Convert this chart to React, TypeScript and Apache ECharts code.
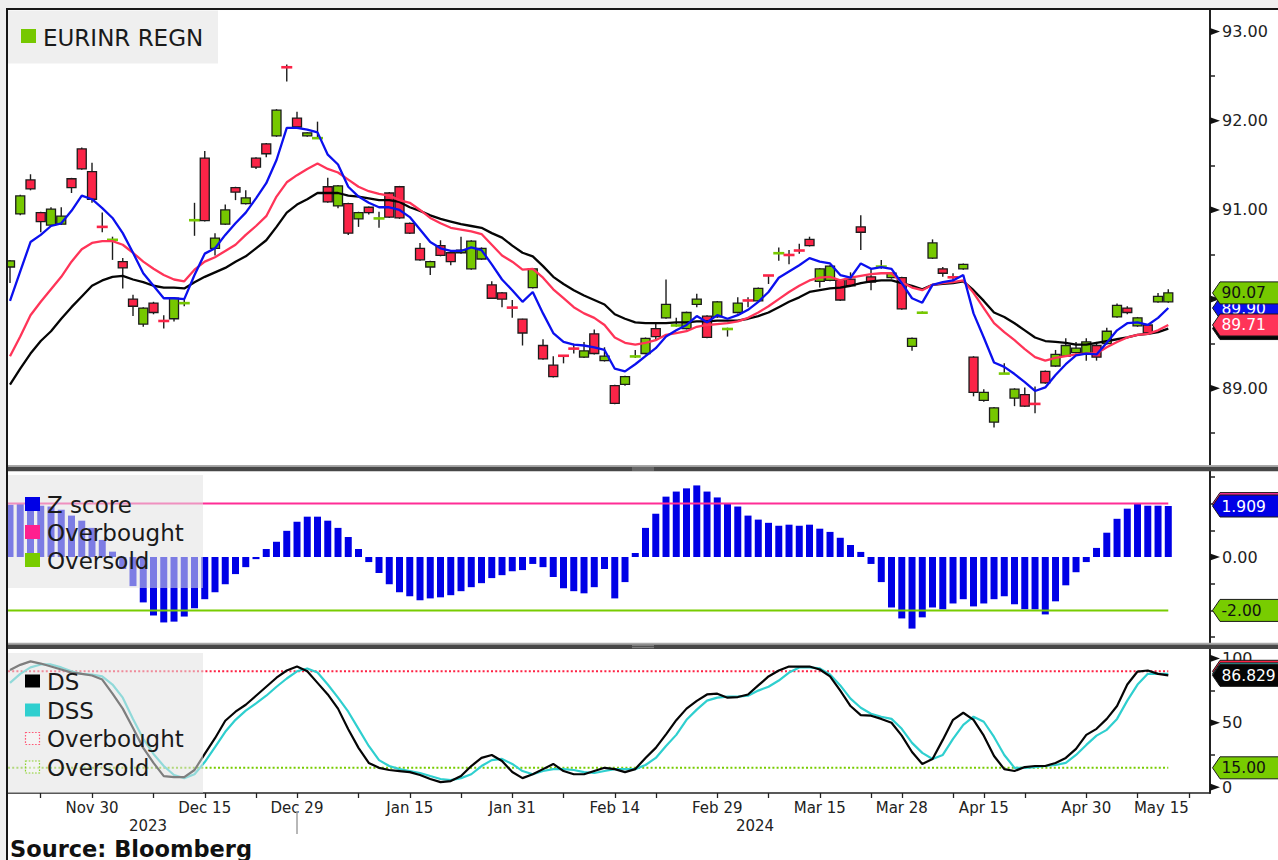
import React, { useEffect, useRef } from "react";
import * as echarts from "echarts";

// ---------- axis calendar (trading days, incl. the empty slots at the right edge) ----------
const axisDates = [
  "2023-11-17", "2023-11-20", "2023-11-21", "2023-11-22", "2023-11-23", "2023-11-24", "2023-11-28", "2023-11-29", "2023-11-30", "2023-12-01",
  "2023-12-04", "2023-12-05", "2023-12-06", "2023-12-07", "2023-12-08", "2023-12-11", "2023-12-12", "2023-12-13", "2023-12-14", "2023-12-15",
  "2023-12-18", "2023-12-19", "2023-12-20", "2023-12-21", "2023-12-22", "2023-12-26", "2023-12-27", "2023-12-28", "2023-12-29", "2024-01-01",
  "2024-01-02", "2024-01-03", "2024-01-04", "2024-01-05", "2024-01-08", "2024-01-09", "2024-01-10", "2024-01-11", "2024-01-12", "2024-01-15",
  "2024-01-16", "2024-01-17", "2024-01-18", "2024-01-19", "2024-01-23", "2024-01-24", "2024-01-25", "2024-01-29", "2024-01-30", "2024-01-31",
  "2024-02-01", "2024-02-02", "2024-02-05", "2024-02-06", "2024-02-07", "2024-02-08", "2024-02-09", "2024-02-12", "2024-02-13", "2024-02-14",
  "2024-02-15", "2024-02-16", "2024-02-20", "2024-02-21", "2024-02-22", "2024-02-23", "2024-02-26", "2024-02-27", "2024-02-28", "2024-02-29",
  "2024-03-01", "2024-03-04", "2024-03-05", "2024-03-06", "2024-03-07", "2024-03-11", "2024-03-12", "2024-03-13", "2024-03-14", "2024-03-15",
  "2024-03-18", "2024-03-19", "2024-03-20", "2024-03-21", "2024-03-22", "2024-03-26", "2024-03-27", "2024-03-28", "2024-04-02", "2024-04-03",
  "2024-04-04", "2024-04-05", "2024-04-08", "2024-04-10", "2024-04-12", "2024-04-15", "2024-04-16", "2024-04-18", "2024-04-19", "2024-04-22",
  "2024-04-23", "2024-04-24", "2024-04-25", "2024-04-26", "2024-04-29", "2024-04-30", "2024-05-02", "2024-05-03", "2024-05-06", "2024-05-07",
  "2024-05-08", "2024-05-09", "2024-05-10", "2024-05-13", "2024-05-14", "2024-05-15", "2024-05-16", "2024-05-17",
];

const tickDates = [
  "2023-11-22", "2023-11-30", "2023-12-08", "2023-12-15", "2023-12-22", "2023-12-29", "2024-01-08", "2024-01-15",
  "2024-01-23", "2024-01-31", "2024-02-07", "2024-02-14", "2024-02-21", "2024-02-29", "2024-03-07", "2024-03-15",
  "2024-03-22", "2024-03-28", "2024-04-08", "2024-04-15", "2024-04-22", "2024-04-30", "2024-05-08", "2024-05-15",
];
const labelDates = [
  "2023-11-30", "2023-12-15", "2023-12-29", "2024-01-15", "2024-01-31", "2024-02-14",
  "2024-02-29", "2024-03-15", "2024-03-28", "2024-04-15", "2024-04-30", "2024-05-15",
];
const yearSeparatorDate = "2023-12-29";
const yearLabels = ["2023", "2024"];
const MONTHS = ["Jan", "Feb", "Mar", "Apr", "May", "Jun", "Jul", "Aug", "Sep", "Oct", "Nov", "Dec"];

// ---------- EURINR candles ----------
const candleOpen = [
  90.36, 90.955, 91.337, 90.97, 90.83, 90.84, 91.35, 91.685, 91.43, 90.82,
  90.66, 90.42, 90.0, 89.72, 89.955, 89.76, 89.78, 89.95, 90.88, 91.58,
  90.57, 90.84, 91.25, 91.07, 91.58, 91.74, 91.83, 92.61, 92.03, 91.83,
  91.8, 91.26, 91.045, 91.07, 90.9, 91.03, 90.9, 91.19, 91.26, 90.85,
  90.57, 90.36, 90.6, 90.52, 90.52, 90.34, 90.45, 90.16, 90.07, 89.91,
  89.775, 90.13, 89.48, 89.26, 89.37, 89.45, 89.35, 89.61, 89.31, 89.03,
  89.045, 89.355, 89.39, 89.67, 89.79, 89.7, 89.67, 89.94, 89.81, 89.8,
  89.66, 89.85, 89.99, 89.98, 90.27, 90.51, 90.5, 90.55, 90.67, 90.2,
  90.21, 90.21, 90.225, 90.81, 90.25, 90.36, 90.24, 90.24, 89.47, 89.845,
  90.46, 90.34, 90.25, 90.34, 89.35, 88.865, 88.62, 89.16, 88.89, 88.93,
  88.83, 89.19, 89.25, 89.36, 89.4, 89.39, 89.48, 89.5, 89.8, 89.9,
  89.7, 89.71, 89.97, 89.97,
];
const candleClose = [
  90.43, 91.157, 91.236, 90.87, 91.01, 90.93, 91.25, 91.46, 91.12, 90.8,
  90.67, 90.35, 89.92, 89.9, 89.85, 89.75, 90.01, 89.96, 90.89, 90.88,
  90.685, 91.0, 91.2, 91.135, 91.48, 91.63, 92.12, 92.59, 91.93, 91.865,
  91.81, 91.09, 91.27, 90.74, 90.97, 90.97, 90.91, 90.92, 90.91, 90.74,
  90.44, 90.42, 90.49, 90.42, 90.55, 90.65, 90.57, 90.01, 90.0, 89.9,
  89.62, 90.34, 89.33, 89.13, 89.36, 89.44, 89.42, 89.39, 89.36, 88.83,
  89.13, 89.36, 89.56, 89.58, 89.94, 89.71, 89.85, 90.0, 89.57, 89.97,
  89.67, 89.955, 89.98, 90.12, 90.26, 90.52, 90.49, 90.54, 90.6, 90.34,
  90.37, 89.99, 90.15, 90.75, 90.19, 90.37, 90.29, 89.89, 89.56, 89.85,
  90.63, 90.29, 90.24, 90.39, 88.955, 88.955, 88.78, 89.17, 88.99, 88.8,
  88.82, 89.06, 89.38, 89.48, 89.45, 89.52, 89.35, 89.64, 89.93, 89.85,
  89.79, 89.62, 90.03, 90.07,
];
const candleHigh = [
  90.44, 91.17, 91.4, 90.98, 91.03, 91.03, 91.36, 91.7, 91.53, 90.97,
  90.7, 90.46, 90.05, 89.91, 89.97, 89.82, 90.02, 90.01, 91.08, 91.66,
  90.74, 91.06, 91.26, 91.22, 91.59, 91.75, 92.13, 92.63, 92.1, 91.87,
  91.99, 91.36, 91.28, 91.08, 90.98, 91.04, 90.98, 91.2, 91.27, 90.86,
  90.63, 90.43, 90.66, 90.53, 90.7, 90.66, 90.58, 90.2, 90.08, 89.99,
  89.78, 90.35, 89.55, 89.36, 89.37, 89.5, 89.52, 89.66, 89.46, 89.04,
  89.14, 89.43, 89.57, 89.72, 90.22, 89.79, 89.86, 90.06, 89.82, 89.98,
  89.68, 90.02, 90.02, 90.13, 90.27, 90.58, 90.55, 90.62, 90.7, 90.35,
  90.38, 90.22, 90.3, 90.94, 90.34, 90.44, 90.3, 90.25, 89.57, 89.86,
  90.67, 90.36, 90.29, 90.4, 89.36, 88.99, 88.79, 89.28, 89.0, 89.01,
  89.02, 89.2, 89.43, 89.56, 89.52, 89.56, 89.52, 89.68, 89.95, 89.92,
  89.8, 89.72, 90.07, 90.11,
];
const candleLow = [
  90.18, 90.94, 91.22, 90.75, 90.82, 90.83, 91.19, 91.45, 91.08, 90.75,
  90.44, 90.12, 89.81, 89.69, 89.83, 89.67, 89.75, 89.92, 90.71, 90.87,
  90.49, 90.83, 91.11, 91.06, 91.46, 91.59, 91.82, 92.44, 91.92, 91.82,
  91.8, 91.08, 91.02, 90.72, 90.81, 90.95, 90.8, 90.91, 90.9, 90.73,
  90.43, 90.27, 90.48, 90.38, 90.51, 90.33, 90.44, 90.0, 89.91, 89.79,
  89.48, 90.12, 89.32, 89.12, 89.28, 89.39, 89.34, 89.38, 89.3, 88.82,
  89.03, 89.34, 89.38, 89.54, 89.78, 89.69, 89.66, 89.91, 89.56, 89.79,
  89.58, 89.84, 89.91, 89.97, 90.17, 90.43, 90.39, 90.51, 90.59, 90.13,
  90.2, 89.98, 90.14, 90.55, 90.1, 90.34, 90.23, 89.88, 89.42, 89.84,
  90.45, 90.25, 90.19, 90.33, 88.91, 88.85, 88.56, 89.16, 88.8, 88.79,
  88.72, 89.05, 89.24, 89.35, 89.39, 89.31, 89.31, 89.49, 89.79, 89.83,
  89.69, 89.61, 89.96, 89.96,
];

// ---------- moving averages (blue / red / black) ----------
const maFast = [
  89.98, 90.31, 90.64, 90.72, 90.82, 90.85, 90.99, 91.16, 91.12, 91.02,
  90.91, 90.74, 90.52, 90.29, 90.15, 90.01, 90.01, 90.0, 90.27, 90.51,
  90.57, 90.72, 90.85, 90.97, 91.13, 91.3, 91.56, 91.92, 91.92, 91.9,
  91.87, 91.62, 91.51, 91.26, 91.15, 91.08, 91.03, 91.03, 91.0, 90.92,
  90.78, 90.64, 90.57, 90.54, 90.54, 90.58, 90.55, 90.39, 90.22, 90.1,
  89.97, 90.08, 89.84, 89.62, 89.52, 89.49, 89.48, 89.46, 89.43, 89.22,
  89.19, 89.27, 89.36, 89.45, 89.58, 89.65, 89.71, 89.81, 89.74, 89.82,
  89.78, 89.82, 89.88, 89.97, 90.08, 90.24, 90.31, 90.38, 90.46, 90.42,
  90.4, 90.27, 90.24, 90.4, 90.34, 90.36, 90.34, 90.18, 90.01, 89.96,
  90.16, 90.19, 90.21, 90.27, 89.84, 89.57, 89.29, 89.24, 89.16, 89.07,
  88.97, 89.01, 89.15, 89.27, 89.37, 89.39, 89.38, 89.51, 89.65, 89.73,
  89.74, 89.71, 89.79, 89.9,
];
const maMid = [
  89.36, 89.58, 89.82, 89.97, 90.11, 90.25, 90.42, 90.56, 90.63, 90.65,
  90.65, 90.61, 90.52, 90.42, 90.34, 90.27, 90.22, 90.2, 90.33, 90.42,
  90.47, 90.54, 90.61, 90.72, 90.82, 90.93, 91.15, 91.31, 91.39, 91.46,
  91.52, 91.46, 91.42, 91.34, 91.26, 91.21, 91.18, 91.16, 91.11, 91.08,
  91.0, 90.91, 90.85, 90.8, 90.78, 90.76, 90.73, 90.61, 90.49, 90.42,
  90.33, 90.34, 90.24, 90.11, 90.01, 89.91, 89.84, 89.79, 89.71, 89.57,
  89.51, 89.49, 89.51, 89.54, 89.6, 89.62, 89.64, 89.69, 89.71, 89.72,
  89.73, 89.75, 89.79, 89.85, 89.92, 90.0, 90.08, 90.15, 90.21, 90.24,
  90.25, 90.21, 90.24, 90.26, 90.28, 90.29, 90.29, 90.19, 90.13, 90.1,
  90.16, 90.18, 90.19, 90.21, 90.07, 89.9, 89.73, 89.63, 89.54, 89.44,
  89.35, 89.31, 89.34, 89.36, 89.38, 89.39, 89.39, 89.46, 89.52, 89.57,
  89.6, 89.61, 89.65, 89.71,
];
const maSlow = [
  89.04, 89.22, 89.39, 89.53, 89.64, 89.78, 89.91, 90.03, 90.15, 90.21,
  90.25, 90.26, 90.22, 90.19, 90.15, 90.13, 90.13, 90.12, 90.19, 90.25,
  90.3, 90.35, 90.42, 90.48, 90.57, 90.66, 90.81, 90.97, 91.06, 91.12,
  91.19, 91.19, 91.19, 91.16, 91.15, 91.13, 91.11, 91.11, 91.09, 91.03,
  90.99, 90.94, 90.9, 90.87, 90.84, 90.82, 90.8, 90.74, 90.69, 90.6,
  90.52, 90.48, 90.37, 90.25, 90.17, 90.1, 90.04, 89.99, 89.94, 89.83,
  89.78, 89.74, 89.73, 89.73, 89.73, 89.74, 89.74, 89.75, 89.75, 89.76,
  89.76, 89.76, 89.78, 89.81, 89.85, 89.91, 89.97, 90.02, 90.08, 90.1,
  90.12, 90.13, 90.15, 90.18, 90.2, 90.21, 90.21, 90.18, 90.15, 90.11,
  90.16, 90.17, 90.18, 90.2, 90.1, 89.98, 89.85, 89.8, 89.73, 89.65,
  89.57, 89.53, 89.52, 89.51, 89.49, 89.49, 89.51, 89.53, 89.55, 89.57,
  89.6, 89.61, 89.63, 89.67,
];

// ---------- Z score ----------
const zScore = [
  1.96, 2.0, 1.96, 1.92, 1.89, 1.77, 1.55, 1.36, 1.09, 0.64,
  0.2, -0.45, -1.09, -1.7, -2.19, -2.45, -2.42, -2.23, -1.92, -1.58,
  -1.32, -1.02, -0.64, -0.38, -0.08, 0.3, 0.57, 0.98, 1.32, 1.51,
  1.51, 1.36, 1.09, 0.75, 0.3, -0.19, -0.6, -1.02, -1.32, -1.47,
  -1.62, -1.55, -1.51, -1.43, -1.28, -1.13, -0.98, -0.79, -0.68, -0.53,
  -0.49, -0.26, -0.38, -0.75, -1.17, -1.28, -1.36, -1.13, -0.45, -1.55,
  -0.94, 0.15, 1.09, 1.62, 2.26, 2.45, 2.57, 2.68, 2.45, 2.23,
  2.0, 1.89, 1.55, 1.4, 1.28, 1.17, 1.21, 1.17, 1.21, 1.06,
  0.94, 0.72, 0.45, 0.19, -0.26, -0.94, -1.89, -2.3, -2.68, -2.26,
  -1.89, -1.96, -1.74, -1.58, -1.85, -1.74, -1.58, -1.47, -1.77, -1.96,
  -1.96, -2.15, -1.66, -1.06, -0.57, -0.19, 0.34, 0.91, 1.43, 1.81,
  2.0, 1.92, 1.92, 1.909,
];
const Z_OVERBOUGHT = 2;
const Z_OVERSOLD = -2;

// ---------- DS / DSS ----------
const dsValues = [
  91, 95, 97.7, 96, 93.7, 91.4, 89, 88, 86.7, 83.6,
  72.7, 61, 46, 30.5, 18.8, 8.6, 7.8, 7.8, 13.3, 25.8,
  38, 51.6, 58.6, 64, 71, 78, 85, 90.6, 93.7, 90,
  81, 72, 61, 45, 30.5, 18.8, 15, 13.3, 12.5, 11.7,
  9.4, 6.3, 3.9, 4.7, 8.6, 16.4, 22.7, 25, 20.3, 11.7,
  7, 10, 14, 18, 12.5, 10, 10, 12.5, 15, 14,
  11.7, 14, 22.7, 30.5, 41, 52, 61, 67, 72, 72.6,
  69.5, 70, 72, 79, 86, 90.6, 93.7, 93.7, 93.7, 91.4,
  86, 75, 63, 56, 55.5, 53, 50, 40, 27.3, 18,
  21.9, 36.7, 52.3, 57.8, 52.3, 40, 24.2, 14, 12.5, 15.6,
  16.4, 16.4, 18.8, 22.7, 29.7, 40.6, 45.3, 53, 63, 79.7,
  89.8, 90.6, 88, 86.829,
];
const dssValues = [
  81, 88, 93, 95.3, 95.3, 93, 90, 88, 87.5, 86,
  79.7, 69.5, 53, 37.5, 25.8, 16.4, 9.4, 7, 10, 19.5,
  31, 43, 52.3, 59.4, 65, 71, 78, 84.4, 90, 92.2,
  89, 79.7, 69.5, 58.6, 45.3, 32, 21, 16.4, 14, 12.5,
  11, 8.6, 6.3, 5.5, 7, 10, 16.4, 21, 21.9, 18,
  12.5, 10, 12.5, 14, 14, 13.3, 11.7, 11, 12.5, 14,
  14, 14, 17.2, 22.7, 32, 40.6, 52.3, 60.2, 67.2, 69.5,
  70.3, 70.3, 71, 75, 78, 82.8, 89, 93, 93, 92.2,
  87.5, 79, 68.8, 61.7, 57, 54.7, 53, 45.3, 34.4, 26.6,
  21.9, 25, 37.5, 48.4, 54.7, 50.8, 39, 25, 15, 15,
  15.6, 16.4, 17.2, 18.8, 25, 32.8, 40, 44.5, 53, 67.2,
  79.7, 88, 88, 88,
];
const STOCH_OVERBOUGHT = 90;
const STOCH_OVERSOLD = 15;

// ---------- axis tick values ----------
const priceTicks = [88.5, 89, 89.5, 90, 90.5, 91, 91.5, 92, 92.5, 93];
const priceLabels = [89, 90, 91, 92, 93];
const zTicks = [-3, -2, -1, 0, 1, 2, 3];
const zLabels = [0];
const stochTicks = [0, 25, 50, 75, 100];
const stochLabels = [0, 50, 100];

// ---------- styling ----------
const FONT = '"DejaVu Sans", Verdana, sans-serif';
const C_UP = "#76c800";
const C_DOWN = "#fb2447";
const C_BLUE = "#0b10ee";
const C_RED = "#ff3458";
const C_BLACK = "#050505";
const C_ZBAR = "#0000e6";
const C_PINK = "#ff2d96";
const C_GREEN = "#78cc00";
const C_CYAN = "#2fcfcf";
const C_OB_DOT = "#ff2244";

const W = 1278;
const H = 860;
const GRID_LEFT = 8;
const GRID_RIGHT = 68; // axis line at x = 1210
const X_MIN = -0.195;
const X_MAX = 117.07;

export default function App() {
  const ref = useRef<HTMLDivElement>(null);

  useEffect(() => {
    const el = ref.current;
    if (!el) return;
    const chart = echarts.init(el, null, { renderer: "svg" });

    const idx = (d: string) => axisDates.indexOf(d);
    const n = candleOpen.length;
    const last = n - 1;
    const candleData = candleOpen.map((o, i) => [i, o, candleClose[i], candleLow[i], candleHigh[i]]);
    const pair = (arr: number[]) => arr.map((v, i) => [i, v]);
    const fmtDate = (v: number) => {
      const d = axisDates[Math.round(v)];
      if (!d) return "";
      const [, m, dd] = d.split("-").map(Number);
      return `${MONTHS[m - 1]} ${dd}`;
    };

    const xAxisBase = (gridIndex: number) => ({
      type: "value",
      gridIndex,
      min: X_MIN,
      max: X_MAX,
      show: gridIndex === 2,
      splitLine: { show: false },
    });

    const yAxisBase = (gridIndex: number, min: number, max: number, ticks: number[], labels: number[], fmt: (v: number) => string) => ({
      type: "value",
      gridIndex,
      position: "right",
      min,
      max,
      splitLine: { show: false },
      axisLine: { show: true, onZero: false, lineStyle: { color: "#222", width: 2 } },
      axisTick: { show: true, customValues: ticks, length: 5, lineStyle: { color: "#222", width: 1.5 } },
      axisLabel: {
        customValues: labels,
        formatter: fmt,
        margin: 12,
        fontSize: 16,
        color: "#222",
        fontFamily: FONT,
      },
    });

    const option: any = {
      animation: false,
      backgroundColor: "#ffffff",
      textStyle: { fontFamily: FONT },
      grid: [
        { left: GRID_LEFT, right: GRID_RIGHT, top: 10, height: 455 },
        { left: GRID_LEFT, right: GRID_RIGHT, top: 471, height: 172 },
        { left: GRID_LEFT, right: GRID_RIGHT, top: 648.7, height: 144.3 },
      ],
      xAxis: [
        xAxisBase(0),
        xAxisBase(1),
        {
          ...xAxisBase(2),
          axisLine: { show: true, onZero: false, lineStyle: { color: "#222", width: 1.5 } },
          axisTick: { show: true, customValues: tickDates.map(idx), length: 5, lineStyle: { color: "#222", width: 1.3 } },
          axisLabel: {
            customValues: labelDates.map(idx),
            formatter: (v: number) => fmtDate(v),
            margin: 7,
            fontSize: 15,
            color: "#222",
            fontFamily: FONT,
            alignMaxLabel: "right",
          },
        },
      ],
      yAxis: [
        yAxisBase(0, 88.14, 93.242, priceTicks, priceLabels, (v) => v.toFixed(2)),
        yAxisBase(1, -3.22, 3.22, zTicks, zLabels, (v) => v.toFixed(2)),
        yAxisBase(2, -4.56, 107.55, stochTicks, stochLabels, (v) => String(v)),
      ],
      series: [
        {
          name: "EURINR REGN",
          type: "custom",
          xAxisIndex: 0,
          yAxisIndex: 0,
          clip: true,
          z: 2,
          encode: { x: 0, y: [1, 2, 3, 4] },
          data: candleData,
          renderItem: (_p: any, api: any) => {
            const i = api.value(0);
            const o = api.value(1);
            const c = api.value(2);
            const l = api.value(3);
            const h = api.value(4);
            const pO = api.coord([i, o]);
            const x = pO[0];
            const yO = pO[1];
            const yC = api.coord([i, c])[1];
            const yL = api.coord([i, l])[1];
            const yH = api.coord([i, h])[1];
            const fill = c >= o ? C_UP : C_DOWN;
            const top = Math.min(yO, yC);
            const bot = Math.max(yO, yC);
            const children: any[] = [
              { type: "line", shape: { x1: x, y1: yH, x2: x, y2: yL }, style: { stroke: "#1c1c1c", lineWidth: 1.4 } },
            ];
            if (bot - top < 2.6) {
              const ym = (top + bot) / 2;
              children.push({ type: "line", shape: { x1: x - 5.5, y1: ym, x2: x + 5.5, y2: ym }, style: { stroke: fill, lineWidth: 2.6 } });
            } else {
              children.push({ type: "rect", shape: { x: x - 4.5, y: top, width: 9, height: bot - top }, style: { fill, stroke: "#1c1c1c", lineWidth: 1.3 } });
            }
            return { type: "group", children };
          },
        },
        { name: "slow", type: "line", xAxisIndex: 0, yAxisIndex: 0, z: 3, data: pair(maSlow), showSymbol: false, lineStyle: { color: C_BLACK, width: 2.3 } },
        { name: "mid", type: "line", xAxisIndex: 0, yAxisIndex: 0, z: 3, data: pair(maMid), showSymbol: false, lineStyle: { color: C_RED, width: 2.3 } },
        { name: "fast", type: "line", xAxisIndex: 0, yAxisIndex: 0, z: 3, data: pair(maFast), showSymbol: false, lineStyle: { color: C_BLUE, width: 2.3 } },
        { name: "Z score", type: "bar", xAxisIndex: 1, yAxisIndex: 1, z: 2, data: pair(zScore), barWidth: 7, itemStyle: { color: C_ZBAR } },
        {
          name: "Overbought", type: "line", xAxisIndex: 1, yAxisIndex: 1, z: 3, showSymbol: false,
          data: [[X_MIN, Z_OVERBOUGHT], [last, Z_OVERBOUGHT]], lineStyle: { color: C_PINK, width: 2 },
        },
        {
          name: "Oversold", type: "line", xAxisIndex: 1, yAxisIndex: 1, z: 3, showSymbol: false,
          data: [[X_MIN, Z_OVERSOLD], [last, Z_OVERSOLD]], lineStyle: { color: C_GREEN, width: 2 },
        },
        {
          name: "Overbought ", type: "line", xAxisIndex: 2, yAxisIndex: 2, z: 2, showSymbol: false,
          data: [[X_MIN, STOCH_OVERBOUGHT], [last, STOCH_OVERBOUGHT]], lineStyle: { color: C_OB_DOT, width: 2, type: [2, 2.2] },
        },
        {
          name: "Oversold ", type: "line", xAxisIndex: 2, yAxisIndex: 2, z: 2, showSymbol: false,
          data: [[X_MIN, STOCH_OVERSOLD], [last, STOCH_OVERSOLD]], lineStyle: { color: C_GREEN, width: 2, type: [2, 2.2] },
        },
        { name: "DSS", type: "line", xAxisIndex: 2, yAxisIndex: 2, z: 3, data: pair(dssValues), showSymbol: false, lineStyle: { color: C_CYAN, width: 2.2 } },
        { name: "DS", type: "line", xAxisIndex: 2, yAxisIndex: 2, z: 3, data: pair(dsValues), showSymbol: false, lineStyle: { color: C_BLACK, width: 2.2 } },
      ],
    };
    chart.setOption(option);

    // ---------- overlays computed from the axes ----------
    const py = (axis: number, v: number) => chart.convertToPixel({ yAxisIndex: axis } as any, v) as unknown as number;
    const px = (v: number) => chart.convertToPixel({ xAxisIndex: 2 } as any, v) as unknown as number;
    const axisX = W - GRID_RIGHT;

    const els: any[] = [];
    const rect = (x: number, y: number, w: number, h: number, style: any, z: number) =>
      els.push({ type: "rect", silent: true, z, shape: { x, y, width: w, height: h }, style });
    const line = (x1: number, y1: number, x2: number, y2: number, style: any, z: number) =>
      els.push({ type: "line", silent: true, z, shape: { x1, y1, x2, y2 }, style });
    const text = (x: number, y: number, t: string, font: string, fill: string, z: number, align = "left") =>
      els.push({ type: "text", silent: true, z, x, y, style: { text: t, font, fill, align, verticalAlign: "middle" } });

    // page margins and frame
    rect(0, 0, W, 8, { fill: "#efefef" }, 80);
    rect(0, 0, 6, H, { fill: "#efefef" }, 80);
    line(6, 9, W, 9, { stroke: "#161616", lineWidth: 2 }, 81);
    line(7, 8, 7, H, { stroke: "#161616", lineWidth: 2 }, 81);

    // panel separators
    for (const yTop of [465, 642.7]) {
      rect(7, yTop, W - 7, 1.8, { fill: "#a9a9a9" }, 70);
      rect(7, yTop + 1.8, W - 7, 4.4, { fill: "#474747" }, 70);
      line(632, yTop + 3, 654, yTop + 3, { stroke: "#9a9a9a", lineWidth: 0.8 }, 71);
      line(632, yTop + 5, 654, yTop + 5, { stroke: "#9a9a9a", lineWidth: 0.8 }, 71);
    }

    // legends
    const legendFont = `23px ${FONT}`;
    const boxStyle = { fill: "rgba(226,226,226,0.55)" };
    rect(8, 10.5, 210, 53, boxStyle, 40);
    rect(21, 29, 15, 14, { fill: C_UP }, 41);
    text(43, 37.5, "EURINR REGN", legendFont, "#1a1a1a", 41);

    rect(8, 475, 195, 113, boxStyle, 40);
    const zItems: [string, string, number][] = [["Z score", C_ZBAR, 504], ["Overbought", "#ff1f8f", 532], ["Oversold", C_GREEN, 560]];
    zItems.forEach(([t, c, y]) => {
      rect(25, y - 7, 15, 14, { fill: c }, 41);
      text(47, y + 1, t, legendFont, "#1a1a1a", 41);
    });

    rect(8, 653, 195, 140, boxStyle, 40);
    rect(25, 674.5, 15, 13, { fill: "#000" }, 41);
    text(47, 681.5, "DS", legendFont, "#1a1a1a", 41);
    rect(25, 703.5, 15, 13, { fill: C_CYAN }, 41);
    text(47, 710.5, "DSS", legendFont, "#1a1a1a", 41);
    rect(25.5, 732.5, 14, 12, { fill: "rgba(255,255,255,0.3)", stroke: "#ff5a78", lineWidth: 1.2, lineDash: [1.6, 1.6] }, 41);
    text(47, 739, "Overbought", legendFont, "#1a1a1a", 41);
    rect(25.5, 761, 14, 12, { fill: "rgba(255,255,255,0.3)", stroke: "#8ad12a", lineWidth: 1.2, lineDash: [1.6, 1.6] }, 41);
    text(47, 767.5, "Oversold", legendFont, "#1a1a1a", 41);

    // arrow markers at the labelled right-axis ticks
    const arrow = (y: number) =>
      els.push({ type: "polygon", silent: true, z: 45, shape: { points: [[axisX, y - 3.6], [axisX + 10, y], [axisX, y + 3.6]] }, style: { fill: "#111" } });
    priceLabels.forEach((v) => arrow(py(0, v)));
    zLabels.forEach((v) => arrow(py(1, v)));
    stochLabels.forEach((v) => arrow(py(2, v)));

    // value tags on the right axis
    let tagZ = 50;
    const tag = (cy: number, fill: string, color: string, t: string) => {
      const z = tagZ++;
      els.push({
        type: "polygon", silent: true, z,
        shape: { points: [[axisX + 2.5, cy], [axisX + 10, cy - 11], [W + 2, cy - 11], [W + 2, cy + 11], [axisX + 10, cy + 11]] },
        style: { fill, stroke: "#1a1a1a", lineWidth: 1 },
      });
      if (t) text(axisX + 11.5, cy + 0.5, t, `15.5px ${FONT}`, color, z);
    };
    tag(py(0, maSlow[last]), C_BLACK, "#fff", "");
    tag(py(0, maFast[last]), C_BLUE, "#fff", maFast[last].toFixed(2));
    tag(py(0, maMid[last]), C_RED, "#fff", maMid[last].toFixed(2));
    tag(py(0, candleClose[last]), C_UP, "#111", candleClose[last].toFixed(2));
    tag(py(1, Z_OVERBOUGHT), C_PINK, "#fff", "");
    tag(py(1, zScore[last]), C_ZBAR, "#fff", zScore[last].toFixed(3));
    tag(py(1, Z_OVERSOLD), C_GREEN, "#111", Z_OVERSOLD.toFixed(2));
    tag(py(2, STOCH_OVERBOUGHT), C_OB_DOT, "#fff", "");
    tag(py(2, dssValues[last]), C_CYAN, "#111", "");
    tag(py(2, dsValues[last]), C_BLACK, "#fff", dsValues[last].toFixed(3));
    tag(py(2, STOCH_OVERSOLD), C_GREEN, "#111", STOCH_OVERSOLD.toFixed(2));

    // year labels and separator
    const sepX = px(idx(yearSeparatorDate));
    line(sepX, 811, sepX, 834, { stroke: "#a0a0a0", lineWidth: 1.5 }, 45);
    text(148, 826, yearLabels[0], `15px ${FONT}`, "#222", 45, "center");
    text(755, 826, yearLabels[1], `15px ${FONT}`, "#222", 45, "center");

    // source
    text(10, 848.5, "Source: Bloomberg", `bold 22.5px ${FONT}`, "#111", 45);

    chart.setOption({ graphic: { elements: els } });

    return () => chart.dispose();
  }, []);

  return <div ref={ref} style={{ position: "absolute", left: 0, top: 0, width: W, height: H }} />;
}
